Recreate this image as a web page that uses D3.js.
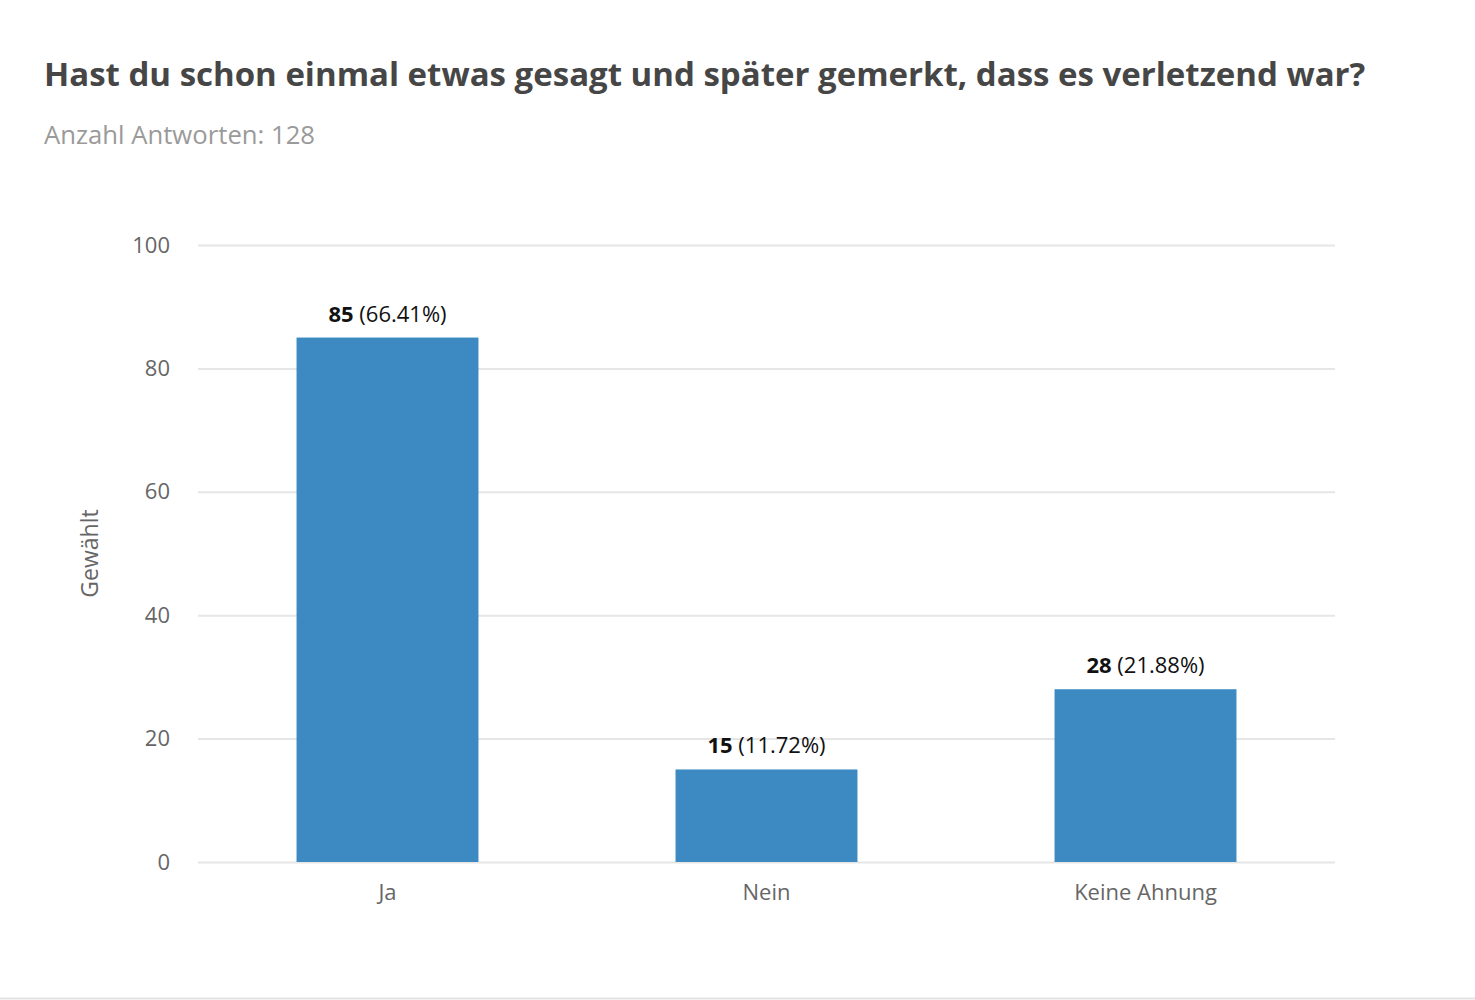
<!DOCTYPE html>
<html><head><meta charset="utf-8">
<script src="https://cdn.jsdelivr.net/npm/d3@7"></script>
<style>
body{margin:0;background:#fff;font-family:"Open Sans",sans-serif;}
svg{display:block;}
</style></head>
<body>
<svg id="chart" width="1475" height="1000"></svg>
<script>
const categories = ["Ja", "Nein", "Keine Ahnung"];
const counts = [85, 15, 28];
const percents = ["66.41%", "11.72%", "21.88%"];
const yTicks = [0, 20, 40, 60, 80, 100];
const titleText = "Hast du schon einmal etwas gesagt und später gemerkt, dass es verletzend war?";
const subtitleText = "Anzahl Antworten: 128";
const yLabel = "Gewählt";

(function () {
const svg = d3.select("#chart");
const W = 1475, H = 1000;
const mLeft = 198, mRight = 1335, mTop = 245, mBottom = 862;

svg.append("rect").attr("width", W).attr("height", H).attr("fill", "#fff");
svg.append("line").attr("x1", 0).attr("x2", W).attr("y1", 998.5).attr("y2", 998.5)
  .attr("stroke", "#e3e3e3").attr("stroke-width", 2);

svg.append("text").attr("x", 44).attr("y", 86).text(titleText)
  .attr("font-size", 33).attr("font-weight", 700).attr("fill", "#464646");
svg.append("text").attr("x", 44).attr("y", 144).text(subtitleText)
  .attr("font-size", 25.7).attr("fill", "#9a9a9a");

const x = d3.scaleBand().domain(categories).range([mLeft, mRight]).paddingInner(0.52).paddingOuter(0.26);
const y = d3.scaleLinear().domain([0, 100]).range([mBottom, mTop]);

const yAxis = d3.axisLeft(y).tickValues(yTicks).tickSize(-(mRight - mLeft)).tickPadding(28);
const gy = svg.append("g").attr("transform", `translate(${mLeft},0)`).call(yAxis);
gy.select(".domain").remove();
gy.selectAll(".tick line").attr("stroke", "#e6e6e6").attr("stroke-width", 2);
gy.selectAll(".tick text").attr("font-size", 22).attr("fill", "#666").attr("font-family", "Open Sans");

const xAxis = d3.axisBottom(x).tickSize(0).tickPadding(22);
const gx = svg.append("g").attr("transform", `translate(0,${mBottom})`).call(xAxis);
gx.select(".domain").remove();
gx.selectAll(".tick text").attr("font-size", 22).attr("fill", "#666").attr("font-family", "Open Sans");

const data = categories.map((c, i) => ({c, v: counts[i], p: percents[i]}));

svg.append("g").selectAll("rect").data(data).join("rect")
  .attr("x", d => x(d.c)).attr("width", x.bandwidth())
  .attr("y", d => y(d.v)).attr("height", d => y(0) - y(d.v))
  .attr("fill", "#3d8ac2");

const lbl = svg.append("g").selectAll("text").data(data).join("text")
  .attr("x", d => x(d.c) + x.bandwidth() / 2).attr("y", d => y(d.v) - 16)
  .attr("text-anchor", "middle").attr("font-size", 22).attr("fill", "#111");
lbl.append("tspan").attr("font-weight", 700).text(d => d.v);
lbl.append("tspan").text(d => " (" + d.p + ")");

svg.append("text").attr("transform", `translate(98,${(mTop + mBottom) / 2}) rotate(-90)`)
  .attr("text-anchor", "middle").attr("font-size", 23).attr("fill", "#666").text(yLabel);
})();
</script>
</body></html>
